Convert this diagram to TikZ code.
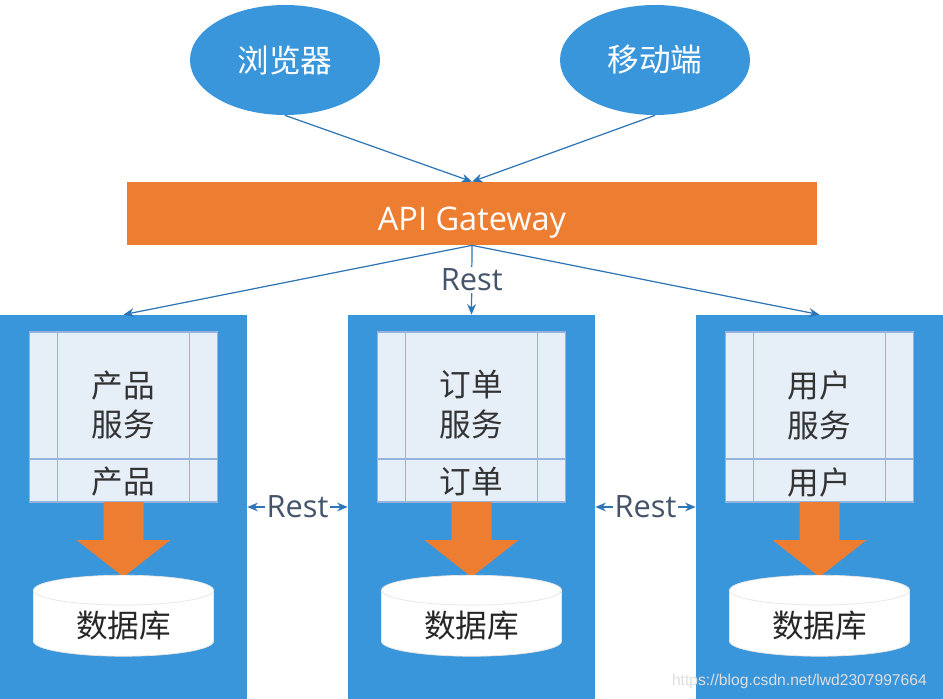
\documentclass[tikz,border=0pt]{standalone}
\usepackage{fontspec}
\setmainfont{Open Sans}
\newfontfamily\cjk{Noto Sans CJK SC}
\usetikzlibrary{shapes.geometric,arrows.meta}

\definecolor{blockblue}{RGB}{58,150,219}
\definecolor{gworange}{RGB}{237,125,49}
\definecolor{linkblue}{RGB}{46,117,182}
\definecolor{restgray}{RGB}{68,84,106}
\definecolor{panelfill}{RGB}{230,238,248}
\definecolor{panelline}{RGB}{150,178,222}

\tikzset{
    client/.style={ellipse, fill=blockblue, text=white, minimum width=3.8cm, minimum height=2.2cm, font=\cjk\fontsize{18}{22}\selectfont},
    gateway/.style={rectangle, fill=gworange, text=white, minimum width=13.8cm, minimum height=1.26cm, font=\fontsize{18.5}{22}\selectfont},
    block/.style={rectangle, fill=blockblue, minimum width=4.94cm, minimum height=7.68cm, inner sep=0pt},
    link/.style={draw=linkblue, line width=0.7pt, -{Stealth[length=6pt,width=5pt]}},
    both/.style={link, {Stealth[length=6pt,width=5pt]}-{Stealth[length=6pt,width=5pt]}},
    resttext/.style={text=restgray, fill=white, inner sep=1pt, font=\fontsize{17.5}{20}\selectfont},
    svctext/.style={text=black!80, align=center, font=\cjk\fontsize{18}{22.7}\selectfont},
    panel/.style={fill=panelfill, draw=panelline, line width=0.6pt},
    flow/.style={fill=gworange},
    db/.style={cylinder, shape border rotate=90, aspect=0.28, fill=white, draw=black!10, minimum width=3.6cm, minimum height=1.62cm, text=black!85, font=\cjk\fontsize{18}{22}\selectfont}
}

\begin{document}
\begin{tikzpicture}
    \useasboundingbox (0,0) rectangle (18.86,-13.98);

    % Clients
    \node[client] (browser) at (5.7,-1.2) {浏览器};
    \node[client] (mobile) at (13.1,-1.2) {移动端};

    % Gateway
    \node[gateway] (gw) at (9.44,-4.27) {\raisebox{-5pt}[\height][\depth]{API Gateway}};

    % Product service
    \begin{scope}[shift={(2.47,0)}]
        \node[block] (prodblk) at (0,-10.14) {};
        \draw[panel] (-1.88,-6.64) rectangle (1.88,-10.04);
        \draw[panel] (-1.32,-6.64) -- (-1.32,-10.04) (1.32,-6.64) -- (1.32,-10.04) (-1.88,-9.18) -- (1.88,-9.18);
        \node[svctext] (prodsvc) at (0,-8.1) {产品\\服务};
        \node[svctext] (prodtbl) at (0,-9.64) {产品};
        \fill[flow] (-0.4,-10.04) -- (0.4,-10.04) -- (0.4,-10.8) -- (0.94,-10.8) -- (0,-11.54) -- (-0.94,-10.8) -- (-0.4,-10.8) -- cycle;
        \node[db] (proddb) at (0,-12.52) {数据库};
    \end{scope}

    % Order service
    \begin{scope}[shift={(9.43,0)}]
        \node[block] (orderblk) at (0,-10.14) {};
        \draw[panel] (-1.88,-6.64) rectangle (1.88,-10.04);
        \draw[panel] (-1.32,-6.64) -- (-1.32,-10.04) (1.32,-6.64) -- (1.32,-10.04) (-1.88,-9.18) -- (1.88,-9.18);
        \node[svctext] (ordersvc) at (0,-8.1) {订单\\服务};
        \node[svctext] (ordertbl) at (0,-9.64) {订单};
        \fill[flow] (-0.4,-10.04) -- (0.4,-10.04) -- (0.4,-10.8) -- (0.94,-10.8) -- (0,-11.54) -- (-0.94,-10.8) -- (-0.4,-10.8) -- cycle;
        \node[db] (orderdb) at (0,-12.52) {数据库};
    \end{scope}

    % User service
    \begin{scope}[shift={(16.39,0)}]
        \node[block] (userblk) at (0,-10.14) {};
        \draw[panel] (-1.88,-6.64) rectangle (1.88,-10.04);
        \draw[panel] (-1.32,-6.64) -- (-1.32,-10.04) (1.32,-6.64) -- (1.32,-10.04) (-1.88,-9.18) -- (1.88,-9.18);
        \node[svctext] (usersvc) at (0,-8.1) {用户\\服务};
        \node[svctext] (usertbl) at (0,-9.64) {用户};
        \fill[flow] (-0.4,-10.04) -- (0.4,-10.04) -- (0.4,-10.8) -- (0.94,-10.8) -- (0,-11.54) -- (-0.94,-10.8) -- (-0.4,-10.8) -- cycle;
        \node[db] (userdb) at (0,-12.52) {数据库};
    \end{scope}

    % Connectors
    \draw[link] (browser.south) -- (gw.north);
    \draw[link] (mobile.south) -- (gw.north);
    \draw[link] (gw.south) -- (prodblk.north);
    \draw[link] (gw.south) -- node[resttext] (restgw) {Rest} (orderblk.north);
    \draw[link] (gw.south) -- (userblk.north);
    \draw[both] (prodblk.east) -- node[resttext] (restpo) {Rest} (orderblk.west);
    \draw[both] (orderblk.east) -- node[resttext] (restou) {Rest} (userblk.west);

    % Watermark
    \node[text=black!13, font=\fontspec{Liberation Sans}\fontsize{8.9}{11}\selectfont, anchor=east] (mark) at (18.66,-13.62) {https://blog.csdn.net/lwd2307997664};
\end{tikzpicture}
\end{document}
